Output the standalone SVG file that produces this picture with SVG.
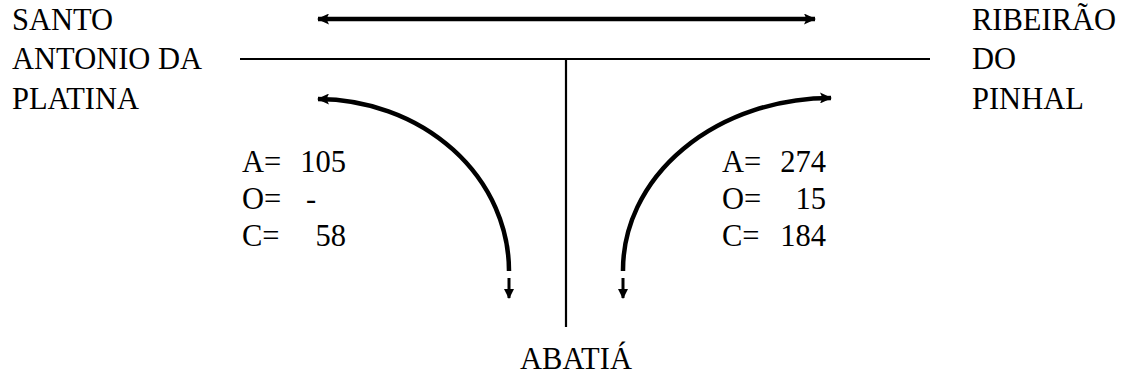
<svg xmlns="http://www.w3.org/2000/svg" width="1126" height="376" viewBox="0 0 1126 376">
<style>
text{font-family:'Liberation Serif','Times New Roman',serif;font-size:30.5px;fill:#000}
.thick{stroke:#000;stroke-width:4.5;fill:none}
.thin{stroke:#000;stroke-width:2.2;fill:none}
.small{stroke:#000;stroke-width:3;fill:none}
</style>
<defs>
<marker id="ah" viewBox="0 0 12 11" refX="11" refY="5.5" markerWidth="12" markerHeight="11" orient="auto-start-reverse" markerUnits="userSpaceOnUse">
<path d="M0,0 L12,5.5 L0,11 L2.5,5.5 Z" fill="#000"/>
</marker>
<marker id="ahs" viewBox="0 0 10 10" refX="9" refY="5" markerWidth="11" markerHeight="10" orient="auto" markerUnits="userSpaceOnUse">
<path d="M0,0 L10,5 L0,10 Z" fill="#000"/>
</marker>
</defs>
<g id="santo-antonio"><text x="12" y="30">SANTO</text><text x="12" y="69">ANTONIO DA</text><text x="12" y="109">PLATINA</text></g>
<g id="ribeirao"><text x="972" y="30">RIBEIRÃO</text><text x="972" y="69">DO</text><text x="972" y="109">PINHAL</text></g>
<g id="abatia"><text x="576" y="369" text-anchor="middle">ABATIÁ</text></g>
<g id="left-counts"><text y="172"><tspan x="242">A=</tspan><tspan x="346" text-anchor="end">105</tspan></text><text y="209"><tspan x="242">O=</tspan><tspan x="306">-</tspan></text><text y="246"><tspan x="242">C=</tspan><tspan x="346" text-anchor="end">58</tspan></text></g>
<g id="right-counts"><text y="172"><tspan x="722">A=</tspan><tspan x="826" text-anchor="end">274</tspan></text><text y="209"><tspan x="722">O=</tspan><tspan x="826" text-anchor="end">15</tspan></text><text y="246"><tspan x="722">C=</tspan><tspan x="826" text-anchor="end">184</tspan></text></g>
<g id="connectors">
<line class="thin" x1="240" y1="59" x2="930" y2="59"/>
<line class="thin" x1="566" y1="59" x2="566" y2="327"/>
<line class="thick" x1="318" y1="19" x2="815" y2="19" marker-start="url(#ah)" marker-end="url(#ah)"/>
<path class="thick" d="M509,271 A192,172 0 0 0 318,99" marker-end="url(#ah)"/>
<path class="thick" d="M623,271 A208,172 0 0 1 831,98" marker-end="url(#ah)"/>
<line class="small" x1="509" y1="278" x2="509" y2="298" marker-end="url(#ahs)"/>
<line class="small" x1="623" y1="278" x2="623" y2="298" marker-end="url(#ahs)"/>
</g>
</svg>
